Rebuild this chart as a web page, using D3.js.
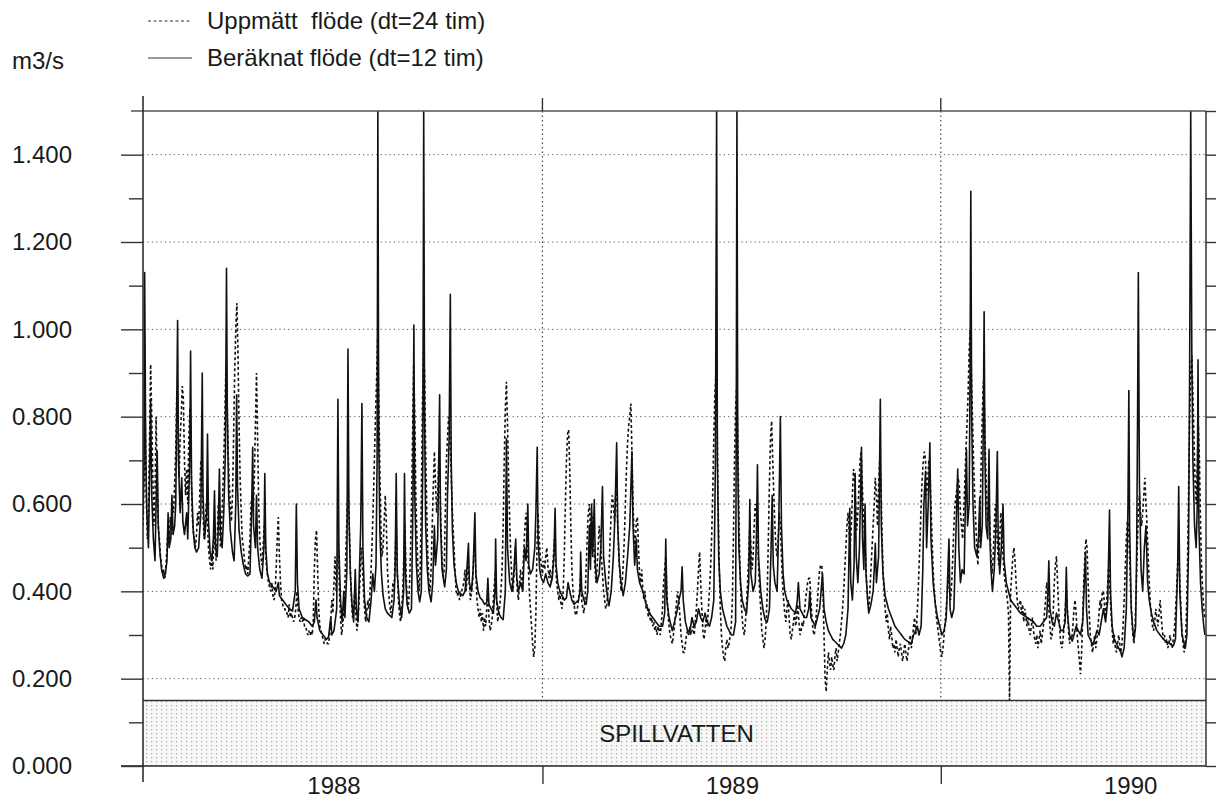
<!DOCTYPE html>
<html>
<head>
<meta charset="utf-8">
<script src="https://cdn.jsdelivr.net/npm/d3@7"></script>
<style>
  html, body { margin: 0; padding: 0; background: #fff; }
  svg text { font-family: "Liberation Sans", Arial, Helvetica, sans-serif; fill: #1a1a1a; }
</style>
</head>
<body>
<div id="chart"></div>
<script>
// ---- data ----------------------------------------------------------------
const yMajorTicks = [0, 0.2, 0.4, 0.6, 0.8, 1.0, 1.2, 1.4];
const yMinorTicks = [0.1, 0.3, 0.5, 0.7, 0.9, 1.1, 1.3, 1.5];
const yearStarts = [1988, 1989, 1990];
const yearLabels = ["1988", "1989", "1990"];
const legendLabels = ["Uppmätt  flöde (dt=24 tim)", "Beräknat flöde (dt=12 tim)"];
const unitLabel = "m3/s";
const bandLabel = "SPILLVATTEN";
const bandLimit = 0.15;

// measured flow, one value per day starting 1988-01-01
const measFlow = [
  .55,.65,.80,.62,.52,.58,.75,.92,.80,.66, .55,.62,.80,.66,.55,.52,.48,.46,.44,.45,
  .43,.46,.50,.55,.52,.57,.53,.60,.58,.65, .72,.86,.78,.66,.75,.80,.87,.84,.70,.62,
  .68,.60,.75,.82,.70,.58,.54,.52,.50,.53, .58,.55,.62,.70,.66,.58,.52,.55,.60,.56,
  .50,.47,.45,.48,.45,.55,.50,.47,.52,.60, .56,.50,.55,.62,.70,.80,.92,.85,.72,.65,
  .60,.56,.62,.75,.90,1.00,1.06,.95,.78,.66, .58,.52,.50,.47,.45,.46,.44,.48,.52,.60,
  .62,.58,.66,.78,.90,.75,.60,.52,.48,.46, .50,.55,.52,.46,.44,.42,.41,.40,.42,.39,
  .38,.40,.45,.52,.57,.48,.42,.38,.37,.36, .36,.35,.35,.34,.37,.34,.35,.34,.33,.34,
  .36,.40,.36,.34,.33,.34,.33,.34,.32,.32, .31,.30,.31,.30,.31,.30,.33,.45,.52,.54,
  .45,.36,.32,.31,.30,.29,.28,.29,.29,.28, .28,.30,.33,.38,.35,.42,.48,.40,.45,.52,
  .40,.34,.30,.32,.36,.42,.50,.58,.64,.55, .45,.38,.34,.36,.40,.35,.31,.33,.38,.44,
  .50,.46,.40,.36,.33,.35,.38,.36,.40,.45, .52,.60,.70,.80,.88,.98,.85,.68,.55,.48,
  .50,.56,.62,.55,.45,.40,.37,.35,.38,.42, .40,.48,.55,.45,.38,.35,.33,.36,.40,.48,
  .55,.45,.38,.36,.40,.48,.60,.75,.92,.80, .62,.52,.45,.40,.45,.60,.82,.95,.90,.72,
  .58,.48,.42,.40,.45,.55,.64,.72,.65,.58, .62,.70,.66,.55,.48,.43,.45,.58,.70,.75,
  .80,.78,.70,.62,.55,.50,.44,.40,.39,.40, .38,.39,.40,.41,.42,.45,.40,.43,.48,.42,
  .38,.40,.42,.48,.50,.44,.38,.36,.34,.36, .33,.35,.31,.34,.32,.36,.40,.34,.31,.32,
  .34,.38,.42,.45,.38,.33,.35,.37,.40,.45, .55,.70,.82,.88,.78,.66,.56,.48,.43,.40,
  .44,.50,.45,.40,.38,.42,.45,.41,.44,.50, .55,.58,.52,.46,.40,.36,.32,.28,.25,.27,
  .35,.50,.58,.52,.48,.46,.44,.47,.45,.48, .50,.46,.43,.45,.42,.44,.48,.52,.46,.42,
  .40,.38,.40,.37,.36,.40,.48,.60,.70,.76, .77,.68,.55,.45,.40,.37,.35,.345,.36,.38,
  .40,.44,.38,.36,.35,.38,.45,.52,.58,.60, .54,.58,.55,.50,.46,.42,.45,.50,.55,.52,
  .48,.44,.40,.38,.36,.37,.40,.45,.52,.58, .62,.60,.56,.62,.63,.55,.48,.44,.40,.42,
  .46,.52,.60,.68,.74,.78,.80,.83,.72,.60, .52,.50,.56,.57,.50,.44,.42,.45,.40,.38,
  .40,.36,.37,.34,.36,.33,.34,.32,.33,.31, .32,.30,.32,.31,.30,.33,.36,.42,.45,.48,
  .40,.35,.32,.30,.29,.28,.30,.32,.35,.38, .40,.38,.34,.30,.28,.26,.26,.28,.30,.31,
  .30,.32,.30,.31,.32,.30,.33,.36,.40,.45, .49,.42,.36,.31,.29,.31,.34,.32,.36,.40,
  .45,.52,.62,.75,.85,.90,.80,.60,.45,.36, .30,.27,.25,.24,.27,.29,.27,.28,.30,.32,
  .38,.52,.70,.82,.87,.75,.58,.45,.38,.34, .31,.30,.33,.37,.42,.48,.55,.50,.45,.48,
  .55,.60,.58,.54,.46,.40,.36,.31,.29,.27, .29,.33,.40,.52,.65,.75,.79,.70,.62,.55,
  .50,.48,.52,.58,.55,.48,.42,.38,.35,.33, .36,.38,.34,.30,.29,.31,.33,.35,.32,.34,
  .37,.33,.30,.31,.33,.32,.35,.38,.40,.42, .43,.43,.38,.34,.31,.30,.32,.35,.38,.42,
  .45,.46,.46,.40,.30,.20,.17,.22,.26,.24, .22,.25,.23,.22,.25,.27,.24,.26,.28,.30,
  .33,.36,.40,.45,.50,.55,.58,.54,.50,.55, .62,.68,.66,.60,.54,.58,.64,.70,.72,.65,
  .58,.54,.48,.42,.38,.36,.40,.45,.50,.55, .60,.66,.62,.55,.64,.70,.66,.55,.45,.40,
  .36,.33,.35,.31,.29,.32,.30,.27,.28,.26, .29,.27,.25,.27,.28,.26,.24,.26,.28,.26,
  .24,.26,.28,.30,.27,.29,.32,.34,.30,.33, .38,.45,.52,.60,.66,.70,.72,.70,.62,.65,
  .70,.68,.60,.52,.45,.40,.37,.34,.32,.30, .28,.26,.25,.27,.30,.33,.36,.40,.44,.40,
  .38,.42,.48,.55,.60,.62,.64,.66,.64,.58, .55,.52,.58,.65,.72,.78,.85,.95,1.00,.90,
  .80,.70,.62,.56,.50,.46,.52,.58,.70,.80, .88,.82,.70,.62,.56,.60,.55,.48,.44,.48,
  .55,.60,.56,.50,.46,.52,.58,.55,.48,.44, .42,.40,.38,.35,.15,.40,.44,.48,.50,.47,
  .42,.38,.36,.37,.38,.35,.37,.33,.36,.34, .32,.34,.31,.30,.32,.34,.31,.29,.28,.30,
  .27,.29,.31,.28,.30,.32,.35,.38,.42,.40, .36,.32,.29,.30,.35,.42,.46,.48,.42,.36,
  .31,.28,.27,.29,.32,.36,.40,.36,.31,.28, .30,.29,.32,.36,.38,.35,.30,.27,.24,.21,
  .26,.34,.42,.48,.52,.50,.42,.35,.30,.28, .26,.28,.30,.27,.29,.32,.35,.38,.36,.40,
  .40,.37,.34,.38,.42,.46,.40,.35,.31,.28, .30,.27,.26,.28,.30,.28,.26,.28,.32,.38,
  .45,.52,.56,.55,.48,.40,.34,.30,.28,.32, .40,.50,.58,.62,.58,.55,.58,.62,.66,.60,
  .55,.48,.42,.37,.34,.32,.31,.33,.36,.34, .32,.35,.38,.34,.31,.29,.30,.28,.29,.27,
  .28,.30,.28,.27,.29,.31,.35,.40,.46,.50, .42,.36,.31,.28,.26,.28,.34,.45,.62,.80,
  .90,.94,.85,.75,.65,.60,.68,.78,.70,.55, .45,.40,.36,.34
];

// computed flow, [day since 1988-01-01, m3/s] (12 h step, peaks above 1.5 cut at the frame)
const calcSeries = [
  [0,.58],[1,.70],[1.5,1.13],[2.5,.72],[3.5,.58],[5,.50],[6,.66],[7,.84],[8,.62],[9.5,.52],
  [11,.47],[12,.60],[13,.72],[14,.55],[15.5,.49],[17,.45],[19,.43],[20.5,.44],[22,.47],[23,.58],
  [24,.50],[25.5,.52],[26.5,.62],[27.5,.53],[29,.55],[30,.60],[31.7,1.02],[32.5,.70],[34,.58],[35.5,.66],
  [36.5,.56],[38,.53],[40,.58],[41,.52],[42.8,.70],[43.6,.95],[44.5,.65],[46,.54],[47.5,.50],[49,.49],
  [51,.50],[53,.58],[54.3,.90],[55,.62],[56.5,.52],[58.3,.58],[59.1,.76],[60,.56],[61.5,.49],[63,.47],
  [64.5,.52],[65.5,.63],[66.5,.50],[68,.48],[69,.55],[70,.68],[71,.53],[72.5,.50],[74,.58],[75.5,.72],
  [76.5,1.14],[77.3,.80],[78.5,.62],[80,.54],[82,.49],[83.5,.47],[85,.60],[85.8,.85],[86.6,.64],[88,.54],
  [90,.49],[92,.46],[94,.44],[96,.435],[98,.44],[99.5,.58],[100.5,.73],[101.3,.55],[103,.50],[104,.62],
  [105,.50],[107,.45],[109,.43],[110.8,.50],[111.6,.67],[112.5,.50],[114,.44],[116,.42],[119,.41],[122,.40],
  [124,.42],[125,.39],[128,.38],[131,.37],[134,.36],[137,.355],[139.5,.40],[140.5,.60],[141.5,.42],[143,.36],
  [146,.34],[149,.335],[152,.33],[155,.32],[157,.33],[158.5,.38],[159.5,.34],[162,.31],[165,.30],[168,.29],
  [170,.295],[172,.34],[173,.30],[175,.31],[177.5,.36],[178.6,.84],[179.5,.50],[181,.38],[182.5,.33],[184,.40],
  [185,.34],[186.8,.45],[187.8,.955],[188.7,.58],[190,.44],[191.5,.37],[193,.33],[194.5,.45],[195.5,.36],[197,.33],
  [199.5,.55],[200.6,.83],[201.5,.50],[203,.38],[205,.34],[207,.33],[209,.38],[210.5,.44],[212,.40],[213.5,.46],
  [214.5,.70],[215.2,1.5],[216,.75],[217,.54],[218.5,.44],[220,.39],[222,.36],[224,.35],[226,.345],[228,.34],
  [230,.38],[231,.45],[232,.67],[233,.44],[235,.37],[237,.34],[238.8,.40],[239.6,.67],[240.5,.44],[242,.37],
  [244,.35],[246,.36],[247.3,.60],[248.2,1.01],[249,.62],[250.5,.46],[252,.40],[253.5,.376],[255,.40],[256.4,.70],
  [257.2,1.5],[258,.80],[259,.55],[260.5,.45],[262,.40],[264,.376],[265.5,.42],[267,.55],[268,.46],[270,.52],
  [271.8,.85],[272.6,.56],[274,.45],[276.4,.41],[278,.45],[279,.62],[280.5,.75],[281.6,1.08],[282.4,.70],[283.5,.54],
  [285,.46],[287,.42],[289,.40],[291,.395],[293,.39],[295,.40],[296.5,.44],[298.2,.51],[299,.42],[301,.40],
  [302.5,.45],[304.1,.58],[305,.44],[307,.40],[309,.385],[311,.38],[313,.37],[315,.375],[316,.43],[317,.37],
  [319,.36],[321,.35],[322.5,.40],[323.1,.52],[324,.38],[326,.35],[328,.34],[330,.335],[332,.40],[333,.75],
  [334,.50],[336,.42],[338,.40],[340,.45],[341.5,.52],[342.5,.43],[344,.40],[346,.42],[348,.40],[349.5,.50],
  [351,.47],[352.6,.60],[353.5,.46],[355,.44],[357,.45],[359,.50],[360,.58],[361.2,.73],[362,.52],[363.5,.45],
  [365,.43],[367,.42],[369,.44],[371,.42],[373,.41],[375,.43],[376.5,.48],[377.6,.59],[378.5,.46],[380,.42],
  [382,.40],[384,.39],[386,.38],[388,.385],[389.5,.42],[391,.40],[393,.38],[395,.37],[397,.375],[399,.38],
  [400.5,.40],[401,.49],[402,.40],[404,.38],[406,.37],[407.5,.40],[409,.55],[410,.45],[411,.60],[412,.48],
  [413.5,.61],[414.5,.46],[416,.42],[418,.44],[419.5,.50],[421,.64],[422,.48],[424,.42],[426,.38],[427,.367],
  [429,.40],[431,.48],[432.5,.58],[434,.74],[435,.55],[436.5,.46],[438,.42],[440,.39],[442,.42],[444,.48],
  [446,.55],[448,.72],[449,.55],[450.5,.46],[452,.52],[453,.45],[455,.42],[458,.40],[461,.37],[464,.35],
  [467,.34],[470,.33],[473,.32],[476,.32],[478,.35],[479,.52],[480,.38],[482,.34],[484,.32],[485,.31],
  [487,.33],[489,.35],[491,.38],[493,.40],[494,.456],[495,.38],[497,.33],[499,.31],[501,.305],[503,.34],
  [505,.32],[507,.33],[509,.36],[511,.34],[513,.33],[515,.35],[517,.33],[519,.32],[521,.34],[523,.38],
  [524.5,.70],[525.6,1.5],[526.3,.70],[527.5,.48],[529,.40],[531,.36],[533,.34],[535,.32],[537,.31],[539,.30],
  [541,.30],[543,.33],[543.6,.80],[544.2,1.5],[545,.70],[546,.50],[547.5,.42],[549,.38],[551,.36],[553,.35],
  [555,.42],[556,.61],[557,.44],[559,.40],[561,.42],[562,.52],[563,.69],[564,.48],[566,.40],[568,.36],
  [570,.335],[572,.33],[574,.36],[575.5,.50],[576.5,.62],[577.5,.46],[579,.42],[581,.40],[582.5,.55],[584,.80],
  [585,.55],[586.5,.44],[588,.40],[590,.38],[592,.37],[594,.36],[596,.355],[598,.35],[599.5,.38],[600.5,.42],
  [602,.36],[604,.35],[606,.34],[608,.34],[610,.36],[611,.40],[612,.34],[614,.33],[616,.32],[618,.34],
  [620,.36],[622.6,.44],[624,.36],[626,.33],[628,.31],[630,.30],[632,.29],[634,.285],[636,.28],[638,.275],
  [640,.27],[642,.28],[644,.30],[646,.36],[647.6,.59],[648.5,.42],[650,.38],[651.5,.46],[652.5,.67],[653.5,.48],
  [655,.42],[656.5,.50],[658.3,.73],[659.3,.52],[660.5,.45],[661.6,.60],[662.5,.44],[664,.38],[665,.35],[667,.37],
  [669,.40],[670,.45],[671,.51],[672,.42],[674,.48],[675.6,.84],[676.5,.55],[678,.44],[680,.39],[683,.36],
  [686,.34],[689,.32],[692,.31],[695,.30],[698,.29],[701,.285],[704,.28],[706,.30],[708,.31],[709.5,.32],
  [711,.30],[713,.32],[714.5,.45],[715.5,.60],[717,.675],[718,.50],[719.5,.60],[721,.74],[722,.52],[724,.42],
  [726,.37],[728,.34],[730,.32],[732,.30],[734,.31],[736,.34],[738.5,.52],[739.5,.36],[741,.34],[743,.36],
  [744.5,.50],[746.5,.68],[747.5,.50],[749,.42],[750.5,.45],[752.4,.44],[753.5,.60],[754.5,.725],[755.5,.55],[757,.60],
  [757.8,.90],[758.5,1.316],[759.3,.80],[760.5,.60],[762,.50],[764,.48],[765.5,.52],[766.7,.615],[767.5,.50],[769,.55],
  [770,.80],[770.7,1.04],[771.5,.70],[772.5,.55],[774,.52],[775.2,.725],[776,.52],[777,.45],[778.3,.40],[780,.45],
  [781.5,.55],[782.8,.72],[783.6,.52],[785,.44],[786.5,.50],[788,.60],[789,.47],[791,.42],[793,.40],[795,.38],
  [798,.37],[801,.36],[804,.35],[807,.345],[810,.34],[813,.335],[816,.33],[819,.32],[822,.32],[825,.33],
  [828,.34],[829.2,.40],[830,.47],[831,.36],[833,.33],[835,.32],[837,.35],[839,.33],[841,.31],[843,.31],
  [845,.33],[846,.455],[847,.35],[849,.30],[851.5,.286],[853,.30],[855,.32],[857,.31],[859,.30],[861,.33],
  [862.5,.42],[863.6,.49],[864.5,.36],[866,.30],[868,.29],[870,.277],[872,.29],[874,.31],[876,.30],[878,.33],
  [880,.36],[882,.33],[884,.38],[885.6,.586],[886.5,.40],[888,.32],[890,.29],[892,.28],[894,.27],[896,.26],
  [897,.25],[899,.27],[901,.36],[902.5,.60],[903.3,.86],[904,.55],[905.5,.36],[907,.31],[908,.29],[909.5,.32],
  [910.5,.50],[911.3,.80],[912,1.13],[913,.65],[914.5,.45],[916,.40],[917.5,.50],[919,.55],[920.5,.42],[922,.38],
  [924,.35],[926,.33],[929,.31],[932,.30],[935,.29],[938,.285],[941,.28],[944,.275],[946,.29],[948,.45],
  [949,.64],[950,.40],[952,.30],[954,.28],[955,.27],[956.5,.30],[958,.50],[959,.90],[960,1.5],[961,.95],
  [962,.70],[963.5,.55],[965,.50],[966,.60],[966.7,.93],[967.5,.55],[969,.42],[970.5,.36],[972,.32],[973,.30]
];

// ---- layout --------------------------------------------------------------
const width = 1216, height = 798;
const plotLeft = 143, plotRight = 1206, plotTop = 111, plotBottom = 766;
const startDate = new Date(1988, 0, 1),
      endDate = new Date(1990, 8, 1);
const dayToDate = d => new Date(startDate.getTime() + d * 864e5);

const svg = d3.select("#chart").append("svg")
    .attr("width", width)
    .attr("height", height);

const x = d3.scaleTime().domain([startDate, endDate]).range([plotLeft, plotRight]);
const y = d3.scaleLinear().domain([0, 1.5]).range([plotBottom, plotTop]);

// stipple pattern for the spill water band
const defs = svg.append("defs");
const pat = defs.append("pattern")
    .attr("id", "stipple")
    .attr("patternUnits", "userSpaceOnUse")
    .attr("width", 5).attr("height", 4);
pat.append("rect").attr("width", 5).attr("height", 4).attr("fill", "#f7f7f7");
pat.append("rect").attr("x", 1).attr("y", 1).attr("width", 1.2).attr("height", 1.2).attr("fill", "#a8a8a8");

defs.append("clipPath").attr("id", "plotclip")
    .append("rect")
    .attr("x", plotLeft).attr("y", plotTop)
    .attr("width", plotRight - plotLeft).attr("height", plotBottom - plotTop);

// band
svg.append("rect")
    .attr("x", plotLeft)
    .attr("y", y(bandLimit))
    .attr("width", plotRight - plotLeft)
    .attr("height", y(0) - y(bandLimit))
    .attr("fill", "url(#stipple)");
svg.append("line")
    .attr("x1", plotLeft).attr("x2", plotRight)
    .attr("y1", y(bandLimit)).attr("y2", y(bandLimit))
    .attr("stroke", "#333").attr("stroke-width", 1.5);
svg.append("text")
    .attr("x", (plotLeft + plotRight) / 2 + 2)
    .attr("y", (y(0) + y(bandLimit)) / 2)
    .attr("dy", "0.35em")
    .attr("text-anchor", "middle")
    .style("font-size", "24px")
    .text(bandLabel);

// dotted grid
svg.append("g")
    .selectAll("line")
    .data(yMajorTicks.filter(v => v > 0))
    .enter()
    .append("line")
    .attr("x1", plotLeft).attr("x2", plotRight)
    .attr("y1", d => y(d)).attr("y2", d => y(d))
    .attr("stroke", "#555")
    .attr("stroke-width", 1)
    .attr("stroke-dasharray", "1.2,3.2");

svg.append("g")
    .selectAll("line")
    .data(yearStarts.slice(1))
    .enter()
    .append("line")
    .attr("x1", d => x(new Date(d, 0, 1))).attr("x2", d => x(new Date(d, 0, 1)))
    .attr("y1", plotTop).attr("y2", y(bandLimit))
    .attr("stroke", "#444")
    .attr("stroke-width", 1.2)
    .attr("stroke-dasharray", "1.5,3");

// series
const plot = svg.append("g").attr("clip-path", "url(#plotclip)");

const measLine = d3.line()
    .x((d, i) => x(dayToDate(i)))
    .y(d => y(d));

const calcLine = d3.line()
    .x(d => x(dayToDate(d[0])))
    .y(d => y(d[1]));

plot.append("path")
    .datum(measFlow)
    .attr("d", measLine)
    .attr("fill", "none")
    .attr("stroke", "#111")
    .attr("stroke-width", 1.6)
    .attr("stroke-dasharray", "3,2.5");

plot.append("path")
    .datum(calcSeries)
    .attr("d", calcLine)
    .attr("fill", "none")
    .attr("stroke", "#111")
    .attr("stroke-width", 1.6)
    .attr("stroke-linejoin", "round");

// frame
svg.append("line")
    .attr("x1", 131).attr("x2", plotRight)
    .attr("y1", plotTop).attr("y2", plotTop)
    .attr("stroke", "#555").attr("stroke-width", 1.5);
svg.append("line")
    .attr("x1", 121).attr("x2", plotRight)
    .attr("y1", plotBottom).attr("y2", plotBottom)
    .attr("stroke", "#222").attr("stroke-width", 1.5);
svg.append("line")
    .attr("x1", plotLeft).attr("x2", plotLeft)
    .attr("y1", 96).attr("y2", 782)
    .attr("stroke", "#222").attr("stroke-width", 1.5);
svg.append("line")
    .attr("x1", plotRight).attr("x2", plotRight)
    .attr("y1", plotTop).attr("y2", plotBottom)
    .attr("stroke", "#333").attr("stroke-width", 1.5);

// left axis, major + minor ticks
const yAxisMajor = svg.append("g")
    .attr("transform", `translate(${plotLeft},0)`)
    .call(d3.axisLeft(y)
        .tickValues(yMajorTicks)
        .tickSize(22)
        .tickPadding(49)
        .tickFormat(d3.format(".3f")));
yAxisMajor.select(".domain").remove();
yAxisMajor.selectAll("line").attr("stroke", "#333").attr("stroke-width", 1.4);
yAxisMajor.selectAll("text")
    .style("font-size", "24px")
    .style("font-family", "'Liberation Sans', Arial, sans-serif")
    .attr("fill", "#1a1a1a");

const yAxisMinor = svg.append("g")
    .attr("transform", `translate(${plotLeft},0)`)
    .call(d3.axisLeft(y).tickValues(yMinorTicks.slice(0, -1)).tickSize(14).tickFormat(""));
yAxisMinor.select(".domain").remove();
yAxisMinor.selectAll("line").attr("stroke", "#333").attr("stroke-width", 1.4);

// right axis
const yAxisRight = svg.append("g")
    .attr("transform", `translate(${plotRight},0)`)
    .call(d3.axisRight(y).tickValues(yMajorTicks.concat(yMinorTicks)).tickSize(10).tickFormat(""));
yAxisRight.select(".domain").remove();
yAxisRight.selectAll("line").attr("stroke", "#333").attr("stroke-width", 1.4);

// bottom axis: year ticks and labels
const xAxis = svg.append("g")
    .attr("transform", `translate(0,${plotBottom})`)
    .call(d3.axisBottom(x)
        .tickValues(yearStarts.slice(1).map(yr => new Date(yr, 0, 1)))
        .tickSize(18)
        .tickFormat(""));
xAxis.select(".domain").remove();
xAxis.selectAll("line").attr("stroke", "#333").attr("stroke-width", 1.4);

// small year ticks above the frame
svg.append("g")
    .selectAll("line")
    .data(yearStarts.slice(1))
    .enter()
    .append("line")
    .attr("x1", d => x(new Date(d, 0, 1))).attr("x2", d => x(new Date(d, 0, 1)))
    .attr("y1", 98).attr("y2", plotTop)
    .attr("stroke", "#333").attr("stroke-width", 1.4);

svg.append("g")
    .selectAll("text")
    .data(yearLabels)
    .enter()
    .append("text")
    .attr("x", (d, i) => x(new Date(yearStarts[i], 5, 24)))
    .attr("y", 794)
    .attr("text-anchor", "middle")
    .style("font-size", "24px")
    .text(d => d);

// legend
const legend = svg.append("g");
legend.append("line")
    .attr("x1", 148).attr("x2", 192)
    .attr("y1", 21).attr("y2", 21)
    .attr("stroke", "#333").attr("stroke-width", 1.2)
    .attr("stroke-dasharray", "3,2.5");
legend.append("line")
    .attr("x1", 148).attr("x2", 192)
    .attr("y1", 58).attr("y2", 58)
    .attr("stroke", "#333").attr("stroke-width", 1.2);
legend.selectAll(".leg-text")
    .data(legendLabels)
    .enter()
    .append("text")
    .attr("class", "leg-text")
    .attr("x", 207)
    .attr("y", (d, i) => 21 + i * 37)
    .attr("dy", "0.35em")
    .style("font-size", "24px")
    .style("white-space", "pre")
    .text(d => d);

svg.append("text")
    .attr("x", 12)
    .attr("y", 61)
    .attr("dy", "0.35em")
    .style("font-size", "24px")
    .text(unitLabel);
</script>
</body>
</html>
